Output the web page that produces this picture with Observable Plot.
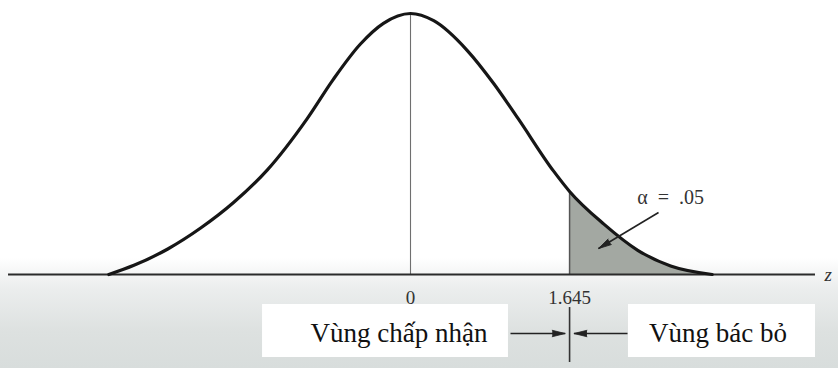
<!DOCTYPE html>
<html>
<head>
<meta charset="utf-8">
<script src="https://cdn.jsdelivr.net/npm/d3@7"></script>
<script src="https://cdn.jsdelivr.net/npm/@observablehq/plot@0.6"></script>
<style>
  html, body { margin: 0; padding: 0; }
  body {
    width: 838px; height: 368px; overflow: hidden;
    background: linear-gradient(180deg, #ffffff 0%, #ffffff 70%, #eceeee 78%, #dde1e0 90%, #d8dddc 100%);
  }
  #chart svg { display: block; background: transparent; }
</style>
</head>
<body>
<div id="chart"></div>
<script>
// Standard normal curve (as drawn): z and curve height
const curveZ       = [-3.12, -2.86, -2.51, -2.17, -1.83, -1.48, -1.07, -0.80, -0.52, -0.28, 0.00, 0.24, 0.59, 0.86, 1.11, 1.48, 1.645, 2.00, 2.35, 2.69, 3.12];
const curveDensity = [0.000, 0.014, 0.039, 0.071, 0.110, 0.160, 0.238, 0.298, 0.352, 0.384, 0.399, 0.388, 0.342, 0.292, 0.239, 0.158, 0.127, 0.077, 0.037, 0.013, 0.000];

// Critical value and significance level
const criticalZ = 1.645;
const alphaText = ".05";
const tickValues = [0, criticalZ];
const tickLabels = ["0", "1.645"];

// Region labels under the axis
const regionLabels = ["Vùng chấp nhận", "Vùng bác bỏ"];

const curve = curveZ.map((z, i) => ({z, d: curveDensity[i]}));
const tail = curve.filter(p => p.z >= criticalZ);
const peak = curve.find(p => p.z === 0);
const critPoint = curve.find(p => p.z === criticalZ);

// Scales (z horizontally, curve height vertically; negative heights hold the annotations below the axis)
const W = 838, H = 368;
const xDomain = [-4.24, 4.426];
const yDomain = [-0.1437, 0.4189];
const xs = Plot.scale({x: {domain: xDomain, range: [0, W]}});
const ys = Plot.scale({y: {domain: yDomain, range: [H, 0]}});

// Annotation layout in data units
const axisExtent = [-4.157, 4.188];
const labelRow = -0.0902;
const boxTop = -0.0459, boxBottom = -0.1269;
const boxes = [
  {x1: -1.53, x2: 1.013, label: regionLabels[0], cx: -0.12},
  {x1: 2.254, x2: 4.188, label: regionLabels[1], cx: 3.18}
];
const boundaryArrows = [
  {x1: 1.034, y1: labelRow, x2: 1.60, y2: labelRow},
  {x1: 2.244, y1: labelRow, x2: 1.69, y2: labelRow}
];
const alphaArrow = [{x1: 2.565, y1: 0.0948, x2: 1.944, y2: 0.0397}];
const alphaLabel = {z: 2.69, d: 0.118};

// Heading of each arrow in screen degrees (clockwise from north) for the filled heads
const heading = a => {
  const dx = xs.apply(a.x2) - xs.apply(a.x1);
  const dy = ys.apply(a.y2) - ys.apply(a.y1);
  return Math.atan2(dx, -dy) * 180 / Math.PI;
};
const allArrows = [...boundaryArrows, ...alphaArrow].map(a => ({...a, rot: heading(a)}));

const serif = "Liberation Serif, Times New Roman, serif";

const chart = Plot.plot({
  width: W,
  height: H,
  marginTop: 0, marginRight: 0, marginBottom: 0, marginLeft: 0,
  x: {domain: xDomain},
  y: {domain: yDomain},
  axis: null,
  style: {background: "transparent", fontFamily: serif},
  marks: [
    // white label boxes
    Plot.rect(boxes, {x1: "x1", x2: "x2", y1: boxTop, y2: boxBottom, fill: "#ffffff"}),
    // shaded rejection tail
    Plot.areaY(tail, {x: "z", y: "d", fill: "#a3a8a2", curve: "monotone-x"}),
    Plot.ruleX([critPoint], {x: "z", y1: 0, y2: "d", stroke: "#555", strokeWidth: 1.5}),
    // centre line
    Plot.ruleX([peak], {x: "z", y1: 0, y2: "d", stroke: "#6f6f6f", strokeWidth: 1.1}),
    // z axis
    Plot.ruleY([0], {x1: axisExtent[0], x2: axisExtent[1], stroke: "#2b2b2b", strokeWidth: 2}),
    // density curve
    Plot.line(curve, {x: "z", y: "d", stroke: "#161616", strokeWidth: 3.2, curve: "monotone-x"}),
    // tick labels
    Plot.text(tickValues, {x: d => d, y: 0, dy: 23, text: (d, i) => tickLabels[i], fontSize: 19, fill: "#333"}),
    Plot.text(["z"], {x: 4.32, y: 0, dy: 0, text: d => d, fontSize: 19, fontStyle: "italic", fill: "#333"}),
    // alpha label
    Plot.text([alphaLabel], {x: "z", y: "d", text: () => "\u03B1  =  " + alphaText, fontSize: 20, fill: "#333"}),
    // arrows: shafts and filled heads
    Plot.link(allArrows, {x1: "x1", y1: "y1", x2: "x2", y2: "y2", stroke: "#222", strokeWidth: 1.6}),
    Plot.vector(allArrows, {x: "x2", y: "y2", rotate: "rot", length: 13, r: 3.2, shape: "spike", anchor: "end", fill: "#222", stroke: "#222", strokeWidth: 0.8}),
    // boundary tick at the critical value
    Plot.ruleX([criticalZ], {y1: -0.0505, y2: -0.1345, stroke: "#333", strokeWidth: 1.6}),
    // region labels
    Plot.text(boxes, {x: "cx", y: labelRow, dy: 0, text: "label", fontSize: 27, fill: "#111"})
  ]
});
document.getElementById("chart").append(chart);
</script>
</body>
</html>
